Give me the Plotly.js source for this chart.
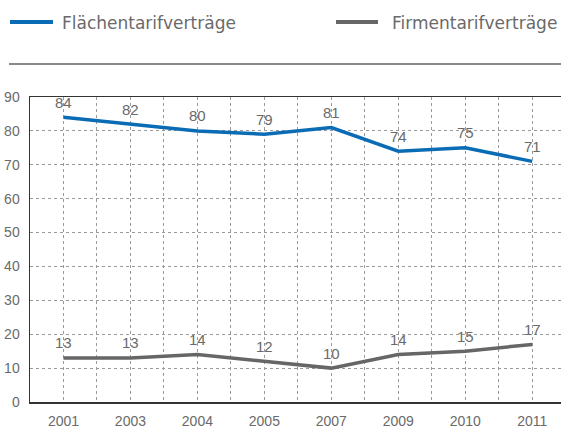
<!DOCTYPE html>
<html><head><meta charset="utf-8">
<script src="https://cdn.plot.ly/plotly-3.0.1.min.js"></script>
<style>html,body{margin:0;padding:0;background:#fff}#chart{width:561px;height:431px}</style>
</head><body><div id="chart"></div>
<script>
const years = ['2001','2003','2004','2005','2007','2009','2010','2011'];
const flaechen = [84, 82, 80, 79, 81, 74, 75, 71];
const firmen = [13, 13, 14, 12, 10, 14, 15, 17];
const seriesNames = ['Flächentarifverträge', 'Firmentarifverträge'];
const yTicks = [0,10,20,30,40,50,60,70,80,90];

const idx = years.map((_, i) => i);
const blue = '#0b6cb6', grey = '#666666', txt = '#6a6a6a';
const FONT = '"Liberation Sans", Arial, sans-serif';
const LFONT = '"DejaVu Sans", "Liberation Sans", sans-serif';

// plot area geometry in pixels
const L = 30, T = 97, W = 531, H = 305;
const px = x => (x - L) / W;
const py = y => (T + H - y) / H;

const gridVals = [];
const gridText = [];
for (let i = 0; i < years.length; i++) {
  gridVals.push(i); gridText.push(years[i]);
  gridVals.push(i + 0.5); gridText.push('');
}

const series = [flaechen, firmen];
const colors = [blue, grey];
const traces = series.map((s, k) => ({
  x: idx, y: s, name: seriesNames[k], mode: 'lines',
  line: {color: colors[k], width: 3.5}, showlegend: false
}));

const legendLine = [[10, 53], [336, 378]];
const legendText = [61, 391];
const shapes = [
  {type: 'line', xref: 'paper', yref: 'paper', x0: px(9), x1: px(561), y0: py(64), y1: py(64),
   line: {color: '#8a8a8a', width: 2}}
];
const annotations = [];
seriesNames.forEach((n, i) => {
  shapes.push({type: 'line', xref: 'paper', yref: 'paper', x0: px(legendLine[i][0]), x1: px(legendLine[i][1]),
    y0: py(22), y1: py(22), line: {color: colors[i], width: 4}});
  annotations.push({xref: 'paper', yref: 'paper', x: px(legendText[i]), y: py(23), xanchor: 'left',
    yanchor: 'middle', text: n, showarrow: false, borderpad: 0,
    font: {size: 17, color: txt, family: LFONT}});
});
series.forEach(s => {
  s.forEach((v, i) => {
    annotations.push({x: idx[i], y: v, xref: 'x', yref: 'y', text: String(v), showarrow: false,
      yanchor: 'bottom', yshift: 4.5, font: {size: 15, color: txt, family: FONT}});
  });
});

const layout = {
  width: 561, height: 431,
  margin: {l: L, r: 561 - L - W, t: T, b: 431 - T - H, pad: 0},
  paper_bgcolor: '#fff', plot_bgcolor: '#fff',
  showlegend: false,
  font: {family: FONT, color: txt, size: 14},
  xaxis: {range: [-0.5, 7.43], tickmode: 'array', tickvals: gridVals, ticktext: gridText,
    showgrid: true, gridcolor: '#9a9a9a', griddash: 'dot', gridwidth: 1,
    showline: true, linecolor: '#333', linewidth: 1.5, mirror: true, ticks: '', zeroline: false,
    tickfont: {size: 14, color: txt}, ticklabelstandoff: 6},
  yaxis: {range: [0, 90], tickmode: 'array', tickvals: yTicks,
    showgrid: true, gridcolor: '#9a9a9a', griddash: 'dot', gridwidth: 1,
    showline: true, linecolor: '#333', linewidth: 1.5, ticks: '', zeroline: false,
    tickfont: {size: 14, color: txt}, ticklabelstandoff: 6},
  shapes: shapes, annotations: annotations
};
Plotly.newPlot('chart', traces, layout, {displayModeBar: false, staticPlot: true});
</script></body></html>
